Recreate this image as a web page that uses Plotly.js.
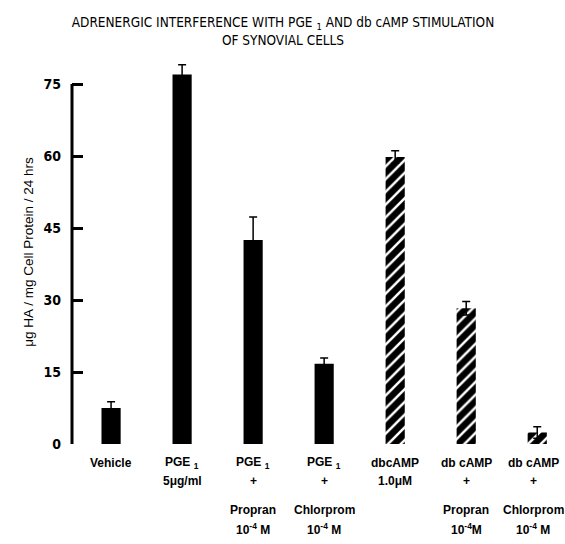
<!DOCTYPE html>
<html>
<head>
<meta charset="utf-8">
<script src="https://cdn.plot.ly/plotly-3.0.1.min.js"></script>
<style>html,body{margin:0;padding:0;background:#fff;}#chart{width:565px;height:544px;}</style>
</head>
<body>
<div id="chart"></div>
<script>
const categories = ['Vehicle','PGE1','PGE1+Propran','PGE1+Chlorprom','dbcAMP','dbcAMP+Propran','dbcAMP+Chlorprom'];
const values = [7.5, 77, 42.5, 16.7, 59.8, 28.3, 2.4];
const errors = [1.3, 2.0, 4.8, 1.2, 1.3, 1.4, 1.2];
const hatched = [false, false, false, false, true, true, true];
const labelRow1 = ['Vehicle','PGE <sub>1</sub>','PGE <sub>1</sub>','PGE <sub>1</sub>','dbcAMP','db cAMP','db cAMP'];
const labelRow2 = ['','5μg/ml','+','+','1.0μM','+','+'];
const labelRow3 = ['','','Propran','Chlorprom','','Propran','Chlorprom'];
const labelRow4 = ['','','10<sup>-4</sup> M','10<sup>-4</sup> M','','10<sup>-4</sup>M','10<sup>-4</sup> M'];
const yTicks = [0, 15, 30, 45, 60, 75];
const yAxisTop = 75;

const NARROW = '"Liberation Sans Narrow", "DejaVu Sans Condensed", sans-serif';
const SANS = '"Liberation Sans", Arial, sans-serif';
const xIdx = categories.map((c, i) => i);

const trace = {
  type: 'bar',
  x: xIdx,
  y: values,
  width: 0.27,
  marker: {
    color: 'black',
    line: {width: 0},
    pattern: {
      shape: hatched.map(h => h ? '/' : ''),
      bgcolor: 'black',
      fgcolor: 'white',
      size: 9,
      solidity: 0.28
    }
  },
  error_y: {type: 'data', array: errors, visible: true, color: 'black', thickness: 1.5, width: 4},
  hoverinfo: 'skip'
};

// plot area: y=0 at 444px, 4.8px per unit, range 0..80 -> top at 60px
const PLOT_BOTTOM = 444, PLOT_H = 384;
const annotations = [];
const rows = [[labelRow1, 463], [labelRow2, 481], [labelRow3, 510], [labelRow4, 529]];
rows.forEach(([arr, ypx]) => {
  arr.forEach((t, i) => {
    if (!t) return;
    annotations.push({
      x: i, xref: 'x', y: (PLOT_BOTTOM - ypx) / PLOT_H, yref: 'paper', yanchor: 'middle',
      xshift: i === arr.length - 1 ? -4 : 0,
      text: t, showarrow: false,
      font: {family: SANS, size: 12, color: 'black', weight: 'bold'}
    });
  });
});

const layout = {
  width: 565, height: 544,
  margin: {l: 72, r: 10, t: 60, b: 100},
  paper_bgcolor: 'white', plot_bgcolor: 'white',
  showlegend: false,
  title: {
    text: 'ADRENERGIC INTERFERENCE WITH PGE <sub>1</sub> AND db cAMP STIMULATION<br>OF SYNOVIAL CELLS',
    font: {family: NARROW, size: 13.5, color: 'black'},
    x: 283 / 565, xref: 'container', xanchor: 'center',
    y: 1 - 27 / 544, yref: 'container', yanchor: 'middle'
  },
  xaxis: {
    range: [-0.55, 6.25],
    showgrid: false, zeroline: false, showline: false,
    showticklabels: false, ticks: ''
  },
  yaxis: {
    range: [0, 80],
    tickvals: yTicks,
    ticktext: yTicks.map(String),
    showgrid: false, zeroline: false,
    showline: false,
    ticks: 'inside', ticklen: 11, tickwidth: 3, tickcolor: 'black',
    ticklabelstandoff: 10,
    tickfont: {family: NARROW, size: 14, color: 'black', weight: 'bold'},
    title: {
      text: 'μg HA / mg Cell Protein / 24 hrs',
      font: {family: SANS, size: 13.5, color: 'black'},
      standoff: 6
    }
  },
  shapes: [{
    type: 'line', xref: 'paper', yref: 'y',
    x0: 0, x1: 0, y0: 0, y1: yAxisTop,
    line: {color: 'black', width: 3}
  }],
  annotations: annotations
};

Plotly.newPlot('chart', [trace], layout, {staticPlot: true, displayModeBar: false});
</script>
</body>
</html>
